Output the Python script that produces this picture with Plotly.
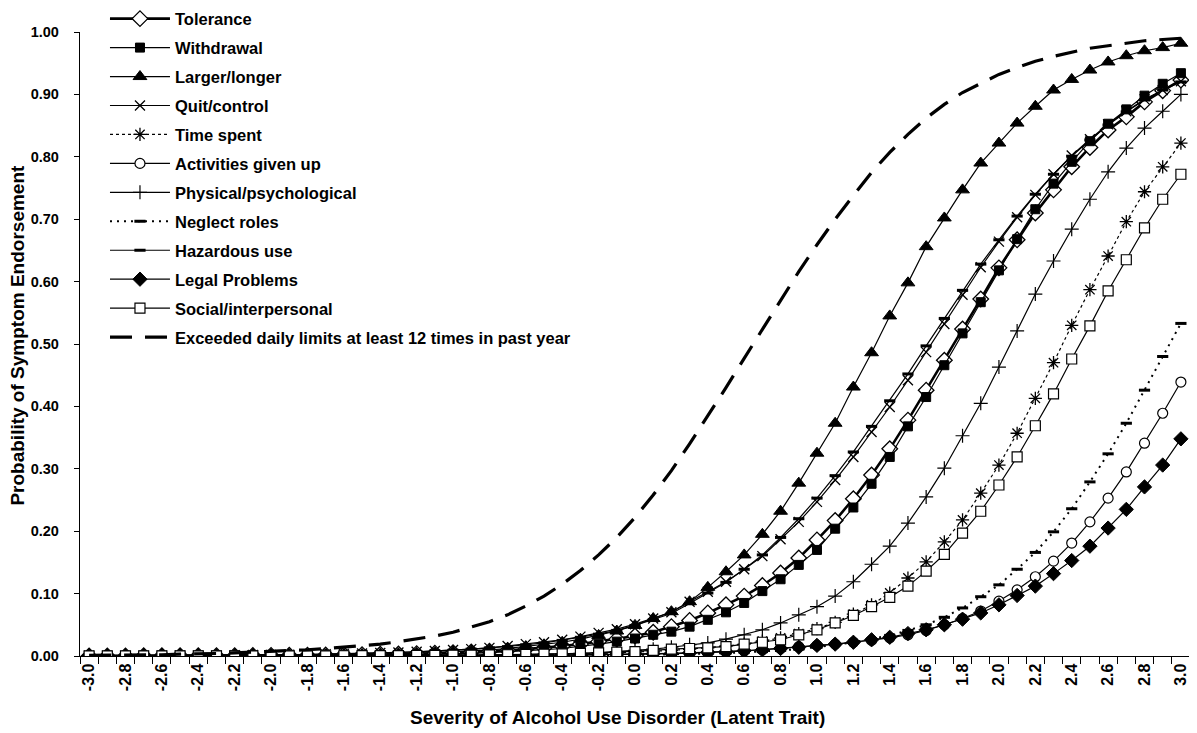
import plotly.graph_objects as go

THETA = [-3.0, -2.9, -2.8, -2.7, -2.6, -2.5, -2.4, -2.3, -2.2, -2.1,
         -2.0, -1.9, -1.8, -1.7, -1.6, -1.5, -1.4, -1.3, -1.2, -1.1,
         -1.0, -0.9, -0.8, -0.7, -0.6, -0.5, -0.4, -0.3, -0.2, -0.1,
         0.0, 0.1, 0.2, 0.3, 0.4, 0.5, 0.6, 0.7, 0.8, 0.9,
         1.0, 1.1, 1.2, 1.3, 1.4, 1.5, 1.6, 1.7, 1.8, 1.9,
         2.0, 2.1, 2.2, 2.3, 2.4, 2.5, 2.6, 2.7, 2.8, 2.9, 3.0]

X_TICK_VALS = [-3.0, -2.8, -2.6, -2.4, -2.2, -2.0, -1.8, -1.6, -1.4, -1.2, -1.0,
               -0.8, -0.6, -0.4, -0.2, 0.0, 0.2, 0.4, 0.6, 0.8, 1.0,
               1.2, 1.4, 1.6, 1.8, 2.0, 2.2, 2.4, 2.6, 2.8, 3.0]
X_TICK_TEXT = ["-3.0", "-2.8", "-2.6", "-2.4", "-2.2", "-2.0", "-1.8", "-1.6", "-1.4", "-1.2", "-1.0",
               "-0.8", "-0.6", "-0.4", "-0.2", "0.0", "0.2", "0.4", "0.6", "0.8", "1.0",
               "1.2", "1.4", "1.6", "1.8", "2.0", "2.2", "2.4", "2.6", "2.8", "3.0"]

tolerance = [0.0002, 0.0002, 0.0002, 0.0003, 0.0003, 0.0004, 0.0004, 0.0005, 0.0006, 0.0008,
             0.0009, 0.0011, 0.0013, 0.0016, 0.0019, 0.0022, 0.0027, 0.0032, 0.0038, 0.0045,
             0.0054, 0.0064, 0.0077, 0.009, 0.011, 0.013, 0.016, 0.019, 0.023, 0.027,
             0.032, 0.038, 0.047, 0.057, 0.069, 0.082, 0.096, 0.113, 0.133, 0.157,
             0.186, 0.217, 0.252, 0.290, 0.332, 0.378, 0.426, 0.474, 0.524, 0.572,
             0.622, 0.667, 0.710, 0.747, 0.784, 0.815, 0.843, 0.864, 0.888, 0.906, 0.923]

withdrawal = [0.0001, 0.0001, 0.0001, 0.0001, 0.0001, 0.0002, 0.0002, 0.0002, 0.0003, 0.0003,
              0.0004, 0.0005, 0.0006, 0.0008, 0.0009, 0.0012, 0.0014, 0.0018, 0.0022, 0.0027,
              0.0034, 0.0042, 0.0052, 0.0064, 0.008, 0.010, 0.012, 0.015, 0.019, 0.023,
              0.028, 0.034, 0.039, 0.047, 0.058, 0.070, 0.085, 0.104, 0.123, 0.146,
              0.170, 0.204, 0.238, 0.276, 0.319, 0.368, 0.415, 0.466, 0.517, 0.567,
              0.618, 0.668, 0.716, 0.757, 0.792, 0.825, 0.853, 0.876, 0.898, 0.917, 0.934]

larger_longer = [0.0001, 0.0001, 0.0002, 0.0002, 0.0003, 0.0003, 0.0004, 0.0005, 0.0006, 0.0007,
                 0.0009, 0.0011, 0.0013, 0.0016, 0.002, 0.0024, 0.003, 0.0036, 0.0044, 0.0054,
                 0.0066, 0.008, 0.0098, 0.012, 0.015, 0.018, 0.022, 0.027, 0.033, 0.040,
                 0.049, 0.060, 0.071, 0.087, 0.110, 0.135, 0.162, 0.195, 0.232, 0.277,
                 0.325, 0.373, 0.431, 0.486, 0.545, 0.598, 0.656, 0.702, 0.747, 0.790,
                 0.822, 0.854, 0.881, 0.907, 0.924, 0.939, 0.952, 0.962, 0.970, 0.975, 0.982]

quit_control = [0.0003, 0.0004, 0.0004, 0.0005, 0.0006, 0.0007, 0.0009, 0.001, 0.0012, 0.0015,
                0.0017, 0.002, 0.0024, 0.0029, 0.0034, 0.004, 0.0048, 0.0057, 0.0068, 0.008,
                0.0095, 0.011, 0.013, 0.016, 0.019, 0.022, 0.026, 0.031, 0.037, 0.043,
                0.051, 0.060, 0.070, 0.087, 0.103, 0.119, 0.139, 0.160, 0.187, 0.215,
                0.247, 0.282, 0.319, 0.359, 0.399, 0.442, 0.487, 0.532, 0.579, 0.623,
                0.664, 0.703, 0.739, 0.772, 0.802, 0.828, 0.852, 0.873, 0.892, 0.907, 0.921]

time_spent = [0.0001, 0.0001, 0.0001, 0.0001, 0.0001, 0.0002, 0.0002, 0.0002, 0.0002, 0.0002,
              0.0003, 0.0003, 0.0003, 0.0003, 0.0003, 0.0003, 0.0004, 0.0005, 0.0006, 0.0007,
              0.0008, 0.001, 0.0012, 0.0015, 0.0018, 0.0022, 0.0027, 0.0033, 0.004, 0.005,
              0.006, 0.007, 0.009, 0.011, 0.013, 0.016, 0.019, 0.024, 0.029, 0.036,
              0.044, 0.054, 0.067, 0.082, 0.101, 0.125, 0.151, 0.183, 0.218, 0.261,
              0.306, 0.357, 0.413, 0.470, 0.530, 0.587, 0.641, 0.696, 0.744, 0.784, 0.822]

activities = [0.0001, 0.0001, 0.0001, 0.0001, 0.0001, 0.0001, 0.0001, 0.0001, 0.0002, 0.0002,
              0.0002, 0.0002, 0.0002, 0.0002, 0.0002, 0.0002, 0.0002, 0.0002, 0.0002, 0.0002,
              0.0003, 0.0004, 0.0005, 0.0006, 0.0007, 0.0009, 0.0011, 0.0014, 0.0017, 0.0021,
              0.0026, 0.0032, 0.0039, 0.0045, 0.005, 0.0065, 0.008, 0.010, 0.012, 0.015,
              0.017, 0.019, 0.022, 0.025, 0.029, 0.034, 0.041, 0.050, 0.060, 0.072,
              0.088, 0.106, 0.127, 0.152, 0.181, 0.215, 0.253, 0.295, 0.341, 0.389, 0.439]

physical = [0.0001, 0.0001, 0.0001, 0.0001, 0.0001, 0.0001, 0.0001, 0.0001, 0.0001, 0.0001,
            0.0002, 0.0002, 0.0002, 0.0002, 0.0002, 0.0002, 0.0003, 0.0004, 0.0005, 0.0006,
            0.0008, 0.001, 0.0013, 0.0017, 0.0021, 0.0027, 0.0034, 0.0043, 0.0055, 0.007,
            0.009, 0.011, 0.014, 0.018, 0.021, 0.027, 0.034, 0.042, 0.053, 0.066,
            0.079, 0.096, 0.119, 0.147, 0.176, 0.213, 0.255, 0.301, 0.353, 0.405,
            0.463, 0.521, 0.580, 0.633, 0.684, 0.732, 0.776, 0.814, 0.846, 0.873, 0.900]

neglect_roles = [0.0001, 0.0001, 0.0001, 0.0001, 0.0001, 0.0001, 0.0001, 0.0001, 0.0001, 0.0001,
                 0.0001, 0.0001, 0.0001, 0.0001, 0.0001, 0.0002, 0.0002, 0.0002, 0.0002, 0.0002,
                 0.0002, 0.0002, 0.0003, 0.0003, 0.0004, 0.0005, 0.0006, 0.0008, 0.001, 0.0012,
                 0.0015, 0.0019, 0.0024, 0.003, 0.0037, 0.0046, 0.0058, 0.007, 0.009, 0.011,
                 0.014, 0.018, 0.022, 0.027, 0.033, 0.041, 0.050, 0.062, 0.077, 0.095,
                 0.114, 0.139, 0.166, 0.199, 0.236, 0.279, 0.324, 0.373, 0.426, 0.480, 0.533]

hazardous_use = [0.0003, 0.0004, 0.0004, 0.0005, 0.0006, 0.0007, 0.0009, 0.001, 0.0012, 0.0015,
                 0.0017, 0.002, 0.0024, 0.0029, 0.0034, 0.004, 0.0047, 0.0056, 0.0066, 0.0078,
                 0.0092, 0.011, 0.013, 0.015, 0.018, 0.021, 0.025, 0.030, 0.035, 0.041,
                 0.049, 0.058, 0.068, 0.084, 0.101, 0.118, 0.139, 0.162, 0.190, 0.220,
                 0.253, 0.289, 0.327, 0.368, 0.409, 0.452, 0.497, 0.541, 0.586, 0.628,
                 0.667, 0.705, 0.740, 0.772, 0.801, 0.827, 0.851, 0.872, 0.891, 0.907, 0.920]

legal_problems = [0.0001, 0.0001, 0.0001, 0.0001, 0.0001, 0.0001, 0.0001, 0.0001, 0.0002, 0.0002,
                  0.0002, 0.0002, 0.0002, 0.0002, 0.0002, 0.0002, 0.0003, 0.0003, 0.0004, 0.0005,
                  0.0005, 0.0006, 0.0008, 0.0009, 0.0011, 0.0013, 0.0015, 0.0018, 0.0021, 0.0025,
                  0.003, 0.0036, 0.0043, 0.005, 0.006, 0.007, 0.0085, 0.010, 0.012, 0.014,
                  0.017, 0.019, 0.022, 0.026, 0.030, 0.036, 0.042, 0.050, 0.059, 0.069,
                  0.082, 0.097, 0.112, 0.132, 0.153, 0.176, 0.205, 0.235, 0.271, 0.306, 0.348]

social = [0.0001, 0.0001, 0.0001, 0.0001, 0.0001, 0.0002, 0.0002, 0.0002, 0.0002, 0.0002,
          0.0003, 0.0003, 0.0003, 0.0003, 0.0004, 0.0005, 0.0006, 0.0007, 0.0008, 0.001,
          0.0012, 0.0014, 0.0017, 0.002, 0.0025, 0.003, 0.0035, 0.004, 0.005, 0.006,
          0.007, 0.009, 0.011, 0.012, 0.013, 0.015, 0.019, 0.022, 0.026, 0.034,
          0.042, 0.053, 0.065, 0.079, 0.094, 0.112, 0.136, 0.163, 0.197, 0.232,
          0.274, 0.319, 0.369, 0.420, 0.476, 0.529, 0.585, 0.635, 0.686, 0.732, 0.772]

exceeded_limits = [0.001, 0.001, 0.0015, 0.002, 0.002, 0.003, 0.003, 0.004, 0.005, 0.006,
                   0.007, 0.008, 0.010, 0.012, 0.014, 0.016, 0.019, 0.023, 0.027, 0.032,
                   0.038, 0.046, 0.055, 0.066, 0.080, 0.096, 0.115, 0.137, 0.162, 0.190,
                   0.222, 0.258, 0.297, 0.340, 0.384, 0.430, 0.477, 0.524, 0.570, 0.616,
                   0.659, 0.700, 0.738, 0.775, 0.807, 0.836, 0.862, 0.884, 0.903, 0.918,
                   0.932, 0.943, 0.953, 0.961, 0.968, 0.974, 0.978, 0.982, 0.986, 0.988, 0.990]

SERIES = [
    ("Tolerance", tolerance, dict(width=2.6), dict(symbol="diamond", size=12, color="white", line=dict(color="black", width=1.3))),
    ("Withdrawal", withdrawal, dict(width=1.2), dict(symbol="square", size=9, color="black", line=dict(color="black", width=1))),
    ("Larger/longer", larger_longer, dict(width=1.2), dict(symbol="triangle-up", size=12, color="black", line=dict(color="black", width=1))),
    ("Quit/control", quit_control, dict(width=1.2), dict(symbol="x-thin-open", size=10, color="black", line=dict(color="black", width=1.3))),
    ("Time spent", time_spent, dict(width=1.2, dash="3px,3px"), dict(symbol="asterisk-open", size=11, color="black", line=dict(color="black", width=1.3))),
    ("Activities given up", activities, dict(width=1.2), dict(symbol="circle", size=10, color="white", line=dict(color="black", width=1.2))),
    ("Physical/psychological", physical, dict(width=1.2), dict(symbol="cross-thin-open", size=10, color="black", line=dict(color="black", width=1.2))),
    ("Neglect roles", neglect_roles, dict(width=2, dash="2px,5px"), dict(symbol="line-ew-open", size=8, color="black", line=dict(color="black", width=3))),
    ("Hazardous use", hazardous_use, dict(width=1.2), dict(symbol="line-ew-open", size=8, color="black", line=dict(color="black", width=3))),
    ("Legal Problems", legal_problems, dict(width=1.2), dict(symbol="diamond", size=11, color="black", line=dict(color="black", width=1))),
    ("Social/interpersonal", social, dict(width=1.2), dict(symbol="square", size=10, color="white", line=dict(color="black", width=1.2))),
]

fig = go.Figure()
for i, (name, vals, line, marker) in enumerate(SERIES):
    fig.add_trace(go.Scatter(
        x=THETA, y=vals, name=name, mode="lines+markers",
        line=dict(color="black", **line), marker=marker,
        legendgroup=f"g{i}",
    ))

fig.add_trace(go.Scatter(
    x=THETA, y=exceeded_limits, name="Exceeded daily limits at least 12 times in past year",
    mode="lines", line=dict(color="black", width=3.2, dash="22px,13px"),
    legendgroup="g_ex",
))

FONT = "Liberation Sans, Arial, sans-serif"

# The page body adds an 8px offset, so the figure is 8px smaller on each axis.
fig.update_layout(
    width=1189, height=725,
    paper_bgcolor="white", plot_bgcolor="white",
    margin=dict(l=72, r=7, t=24, b=77, autoexpand=False),
    font=dict(family=FONT, color="black", size=14),
    showlegend=True,
    legend=dict(
        x=0.0225, y=1.049, xanchor="left", yanchor="top",
        bgcolor="rgba(255,255,255,0)", borderwidth=0,
        font=dict(family=FONT, size=16.5, color="black", weight="bold"),
        tracegroupgap=4.5, itemwidth=60, maxheight=600,
    ),
    xaxis=dict(
        range=[-3.05, 3.05],
        tickmode="array", tickvals=X_TICK_VALS, ticktext=X_TICK_TEXT,
        tickangle=-90, ticks="",
        tickfont=dict(family=FONT, size=16, color="black", weight="bold"),
        showline=True, linecolor="black", linewidth=1.3,
        showgrid=False, zeroline=False,
        minor=dict(ticks="outside", ticklen=7, tickcolor="black", tickwidth=1,
                   tick0=-3.05, dtick=0.1, showgrid=False),
    ),
    yaxis=dict(
        range=[0, 1.0], tick0=0, dtick=0.1, tickformat=".2f",
        ticks="outside", ticklen=5, tickcolor="black", ticklabelstandoff=12,
        tickfont=dict(family=FONT, size=14.5, color="black", weight="bold"),
        showline=True, linecolor="black", linewidth=1.3,
        showgrid=False, zeroline=False,
    ),
    annotations=[
        dict(text="Severity of Alcohol Use Disorder (Latent Trait)",
             xref="paper", yref="paper", x=0.4838, y=-0.0978,
             xanchor="center", yanchor="middle", showarrow=False,
             font=dict(family=FONT, size=19, color="black", weight="bold")),
        dict(text="Probability of Symptom Endorsement",
             xref="paper", yref="paper", x=-0.0559, y=0.515, textangle=-90,
             xanchor="center", yanchor="middle", showarrow=False,
             font=dict(family=FONT, size=19, color="black", weight="bold")),
    ],
)

fig.write_html("out.html")
